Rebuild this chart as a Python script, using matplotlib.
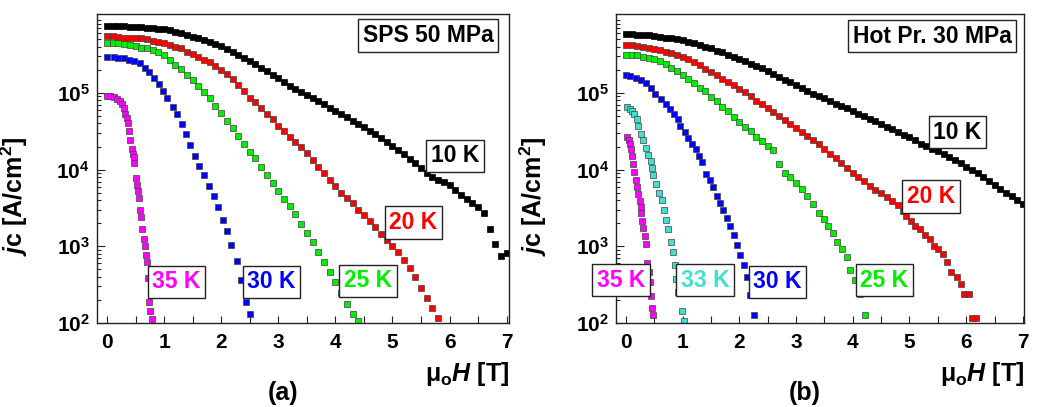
import numpy as np
import matplotlib
matplotlib.use('Agg')
import matplotlib.pyplot as plt
from matplotlib.ticker import FixedLocator, FixedFormatter, LogLocator, NullFormatter, MultipleLocator

plt.rcParams['font.family'] = ['Liberation Sans', 'DejaVu Sans']
plt.rcParams['font.weight'] = 'bold'
plt.rcParams['mathtext.fontset'] = 'custom'
plt.rcParams['mathtext.rm'] = 'Liberation Sans:bold'
plt.rcParams['mathtext.it'] = 'Liberation Sans:italic:bold'
plt.rcParams['mathtext.bf'] = 'Liberation Sans:bold'

# ---------------- (a) SPS 50 MPa ----------------  (values are log10 jc)
h_10a = [0.0, 0.1, 0.2, 0.3, 0.4, 0.5, 0.6, 0.7, 0.8, 0.9,
         1.0, 1.1, 1.2, 1.3, 1.4, 1.5, 1.6, 1.7, 1.8, 1.9,
         2.0, 2.1, 2.2, 2.3, 2.4, 2.5, 2.6, 2.7, 2.8, 2.9,
         3.0, 3.1, 3.2, 3.3, 3.4, 3.5, 3.6, 3.7, 3.8, 3.9,
         4.0, 4.1, 4.2, 4.3, 4.4, 4.5, 4.6, 4.7, 4.8, 4.9,
         5.0, 5.1, 5.2, 5.3, 5.4, 5.5, 5.6, 5.7, 5.8, 5.9,
         6.0, 6.1, 6.2, 6.3, 6.4, 6.5, 6.6, 6.7, 6.8, 6.9, 7.0]
lj_10a = [5.87, 5.87, 5.87, 5.87, 5.86, 5.86, 5.86, 5.85, 5.85, 5.84,
          5.83, 5.82, 5.80, 5.78, 5.76, 5.73, 5.71, 5.69, 5.67, 5.64,
          5.61, 5.57, 5.54, 5.50, 5.46, 5.42, 5.38, 5.33, 5.28, 5.24,
          5.19, 5.14, 5.09, 5.05, 5.01, 4.97, 4.93, 4.89, 4.85, 4.81,
          4.77, 4.73, 4.68, 4.64, 4.60, 4.56, 4.51, 4.46, 4.41, 4.36,
          4.31, 4.25, 4.20, 4.14, 4.08, 4.02, 3.96, 3.91, 3.87, 3.84,
          3.80, 3.74, 3.67, 3.62, 3.57, 3.51, 3.43, 3.22, 3.03, 2.87, 2.91]

h_20a = [0.0, 0.1, 0.2, 0.3, 0.4, 0.5, 0.6, 0.7, 0.8, 0.9,
         1.0, 1.1, 1.2, 1.3, 1.4, 1.5, 1.6, 1.7, 1.8, 1.9,
         2.0, 2.1, 2.2, 2.3, 2.4, 2.5, 2.6, 2.7, 2.8, 2.9,
         3.0, 3.1, 3.2, 3.3, 3.4, 3.5, 3.6, 3.7, 3.8, 3.9,
         4.0, 4.1, 4.2, 4.3, 4.4, 4.5, 4.6, 4.7, 4.8, 4.9,
         5.0, 5.1, 5.2, 5.3, 5.4, 5.5, 5.6, 5.7, 5.8]
lj_20a = [5.74, 5.74, 5.73, 5.72, 5.72, 5.72, 5.71, 5.70, 5.68, 5.66,
          5.65, 5.62, 5.60, 5.58, 5.54, 5.51, 5.47, 5.43, 5.40, 5.35,
          5.30, 5.25, 5.18, 5.10, 5.02, 4.94, 4.88, 4.81, 4.73, 4.66,
          4.57, 4.51, 4.43, 4.36, 4.30, 4.22, 4.13, 4.04, 3.95, 3.86,
          3.78, 3.70, 3.63, 3.56, 3.48, 3.41, 3.33, 3.25, 3.16, 3.08,
          3.01, 2.92, 2.82, 2.72, 2.60, 2.46, 2.32, 2.20, 2.07]

h_25a = [0.0, 0.1, 0.2, 0.3, 0.4, 0.5, 0.6, 0.7, 0.8, 0.9,
         1.0, 1.1, 1.2, 1.3, 1.4, 1.5, 1.6, 1.7, 1.8, 1.9,
         2.0, 2.1, 2.2, 2.3, 2.4, 2.5, 2.6, 2.7, 2.8, 2.9,
         3.0, 3.1, 3.2, 3.3, 3.4, 3.5, 3.6, 3.7, 3.8, 3.9,
         4.0, 4.1, 4.2, 4.3, 4.4]
lj_25a = [5.65, 5.65, 5.65, 5.64, 5.63, 5.61, 5.59, 5.58, 5.56, 5.53,
          5.49, 5.43, 5.37, 5.31, 5.24, 5.17, 5.09, 5.01, 4.93, 4.83,
          4.74, 4.63, 4.54, 4.44, 4.33, 4.23, 4.15, 4.04, 3.93, 3.82,
          3.72, 3.62, 3.52, 3.42, 3.29, 3.18, 3.06, 2.93, 2.79, 2.66,
          2.53, 2.39, 2.25, 2.12, 2.02]

h_30a = [0.0, 0.12, 0.20, 0.29, 0.38, 0.47, 0.57, 0.66, 0.74, 0.83,
         0.91, 0.99, 1.06, 1.15, 1.22, 1.31, 1.38, 1.46, 1.54, 1.62,
         1.70, 1.79, 1.87, 1.95, 2.03, 2.11, 2.18, 2.27, 2.35, 2.43, 2.51]
lj_30a = [5.47, 5.47, 5.46, 5.45, 5.43, 5.41, 5.39, 5.33, 5.27, 5.19,
          5.12, 5.03, 4.93, 4.82, 4.72, 4.59, 4.46, 4.32, 4.18, 4.05,
          3.93, 3.79, 3.65, 3.51, 3.34, 3.20, 3.02, 2.81, 2.56, 2.28, 2.12]

h_35a = [0.0, 0.06, 0.12, 0.18, 0.23, 0.26, 0.29, 0.32, 0.35, 0.36,
         0.39, 0.41, 0.43, 0.46, 0.47, 0.48, 0.50, 0.52, 0.55, 0.56,
         0.58, 0.60, 0.62, 0.64, 0.66, 0.69, 0.70, 0.71, 0.74, 0.76, 0.79]
lj_35a = [4.96, 4.96, 4.95, 4.92, 4.89, 4.86, 4.80, 4.73, 4.67, 4.61,
          4.50, 4.39, 4.27, 4.20, 4.16, 4.08, 3.89, 3.80, 3.72, 3.63,
          3.48, 3.38, 3.22, 3.10, 3.01, 2.89, 2.79, 2.59, 2.28, 2.16, 2.05]

# ---------------- (b) Hot Pr. 30 MPa ----------------
h_10b = h_10a
lj_10b = [5.77, 5.77, 5.76, 5.76, 5.75, 5.74, 5.73, 5.72, 5.71, 5.70,
          5.69, 5.67, 5.65, 5.62, 5.60, 5.58, 5.55, 5.53, 5.50, 5.47,
          5.44, 5.41, 5.38, 5.35, 5.32, 5.28, 5.25, 5.21, 5.17, 5.14,
          5.10, 5.07, 5.03, 4.99, 4.96, 4.93, 4.89, 4.86, 4.83, 4.80,
          4.76, 4.73, 4.70, 4.66, 4.63, 4.59, 4.56, 4.53, 4.49, 4.45,
          4.42, 4.38, 4.34, 4.31, 4.27, 4.24, 4.20, 4.17, 4.13, 4.09,
          4.04, 4.00, 3.95, 3.90, 3.85, 3.80, 3.75, 3.70, 3.65, 3.60, 3.55]

h_20b = [0.0, 0.1, 0.2, 0.3, 0.4, 0.5, 0.6, 0.7, 0.8, 0.9,
         1.0, 1.1, 1.2, 1.3, 1.4, 1.5, 1.6, 1.7, 1.8, 1.9,
         2.0, 2.1, 2.2, 2.3, 2.4, 2.5, 2.6, 2.7, 2.8, 2.9,
         3.0, 3.1, 3.2, 3.3, 3.4, 3.5, 3.6, 3.7, 3.8, 3.9,
         4.0, 4.1, 4.2, 4.3, 4.4, 4.5, 4.6, 4.7, 4.8,
         4.89, 4.94, 5.02, 5.10, 5.19, 5.27, 5.36, 5.43, 5.51, 5.59,
         5.67, 5.74, 5.83, 5.90, 5.97, 6.05, 6.10, 6.18]
lj_20b = [5.62, 5.62, 5.61, 5.60, 5.59, 5.57, 5.56, 5.54, 5.52, 5.50,
          5.47, 5.44, 5.40, 5.36, 5.31, 5.27, 5.23, 5.18, 5.14, 5.10,
          5.05, 5.01, 4.96, 4.90, 4.85, 4.80, 4.75, 4.70, 4.65, 4.59,
          4.54, 4.49, 4.44, 4.39, 4.33, 4.27, 4.21, 4.15, 4.08, 4.02,
          3.96, 3.90, 3.85, 3.79, 3.74, 3.69, 3.64, 3.59, 3.54,
          3.46, 3.39, 3.33, 3.26, 3.22, 3.15, 3.09, 3.00, 2.96, 2.90,
          2.80, 2.67, 2.60, 2.51, 2.38, 2.38, 2.07, 2.07]

h_25b = [0.0, 0.1, 0.2, 0.3, 0.4, 0.5, 0.6, 0.7, 0.8, 0.9,
         1.0, 1.1, 1.2, 1.3, 1.4, 1.5, 1.6, 1.7, 1.8, 1.9,
         2.0, 2.1, 2.2, 2.3, 2.4, 2.5, 2.6, 2.7, 2.8, 2.9,
         3.0, 3.1, 3.2, 3.3, 3.4, 3.49, 3.56, 3.65, 3.73, 3.81,
         3.89, 3.96, 4.04, 4.12, 4.21]
lj_25b = [5.50, 5.49, 5.49, 5.47, 5.46, 5.44, 5.41, 5.38, 5.33, 5.28,
          5.23, 5.18, 5.13, 5.07, 5.02, 4.95, 4.89, 4.82, 4.76, 4.69,
          4.62, 4.56, 4.50, 4.43, 4.37, 4.31, 4.25, 4.07, 3.96, 3.90,
          3.83, 3.75, 3.66, 3.55, 3.43, 3.36, 3.26, 3.17, 3.06, 2.97,
          2.86, 2.69, 2.56, 2.38, 2.11]

h_30b = [0.0, 0.08, 0.17, 0.26, 0.35, 0.44, 0.52, 0.61, 0.70, 0.78,
         0.85, 0.91, 0.96, 1.04, 1.09, 1.17, 1.23, 1.29, 1.35, 1.42,
         1.48, 1.53, 1.60, 1.66, 1.72, 1.78, 1.83, 1.90, 1.95, 2.01,
         2.08, 2.14, 2.18, 2.26]
lj_30b = [5.23, 5.22, 5.20, 5.17, 5.13, 5.06, 4.99, 4.92, 4.86, 4.79,
          4.72, 4.66, 4.57, 4.49, 4.41, 4.33, 4.27, 4.18, 4.10, 3.94,
          3.86, 3.77, 3.66, 3.57, 3.47, 3.37, 3.27, 3.15, 3.02, 2.89,
          2.75, 2.60, 2.37, 2.11]

h_33b = [0.02, 0.07, 0.11, 0.15, 0.19, 0.22, 0.26, 0.31, 0.35, 0.39,
         0.44, 0.46, 0.48, 0.53, 0.58, 0.63, 0.67, 0.71, 0.75, 0.79,
         0.83, 0.86, 0.89, 0.92, 0.99, 1.02]
lj_33b = [4.82, 4.79, 4.76, 4.72, 4.66, 4.57, 4.47, 4.38, 4.28, 4.19,
          4.11, 4.02, 3.93, 3.81, 3.70, 3.60, 3.47, 3.34, 3.22, 3.06,
          2.92, 2.75, 2.58, 2.41, 2.15, 2.02]

h_35b = [0.02, 0.05, 0.08, 0.09, 0.11, 0.13, 0.14, 0.17, 0.20, 0.22,
         0.24, 0.26, 0.27, 0.29, 0.31, 0.33, 0.35, 0.38, 0.41, 0.42,
         0.45, 0.46, 0.48]
lj_35b = [4.42, 4.38, 4.33, 4.27, 4.18, 4.07, 3.97, 3.86, 3.77, 3.68,
          3.59, 3.51, 3.43, 3.33, 3.24, 3.13, 3.03, 2.78, 2.67, 2.54,
          2.35, 2.20, 2.10]

RED, GREEN, BLUE, MAG, CYAN = '#ff0000', '#00ee00', '#0000ff', '#ff00ff', '#40e0d0'

curves_a = [(h_35a, lj_35a, MAG), (h_30a, lj_30a, BLUE), (h_25a, lj_25a, GREEN),
            (h_20a, lj_20a, RED), (h_10a, lj_10a, 'black')]
curves_b = [(h_35b, lj_35b, MAG), (h_33b, lj_33b, CYAN), (h_30b, lj_30b, BLUE),
            (h_25b, lj_25b, GREEN), (h_20b, lj_20b, RED), (h_10b, lj_10b, 'black')]

# label text, field, log10 jc, colour
tags_a = [('SPS 50 MPa', 5.62, 5.75, 'black'), ('10 K', 6.09, 4.18, 'black'),
          ('20 K', 5.37, 3.31, RED), ('25 K', 4.57, 2.55, GREEN),
          ('30 K', 2.88, 2.54, BLUE), ('35 K', 1.22, 2.54, MAG)]
tags_b = [('Hot Pr. 30 MPa', 5.40, 5.74, 'black'), ('10 K', 5.85, 4.49, 'black'),
          ('20 K', 5.38, 3.65, RED), ('25 K', 4.56, 2.56, GREEN),
          ('30 K', 2.67, 2.54, BLUE), ('33 K', 1.40, 2.56, CYAN),
          ('35 K', -0.09, 2.56, MAG)]

fig = plt.figure(figsize=(10.46, 4.07), dpi=100)
ax_a = fig.add_axes([0.0927, 0.2064, 0.3939, 0.7592])
ax_b = fig.add_axes([0.5889, 0.2064, 0.3901, 0.7592])


def setup(ax, curves, tags, xmax):
    for h, lj, c in curves:
        ec = 'black' if c == 'black' else '#404040'
        ax.plot(h, 10 ** np.array(lj), ls='none', marker='s', ms=4.6,
                mfc=c, mec=ec, mew=0.5)
    for s, x, ly, c in tags:
        ax.text(x, 10 ** ly, s, color=c, fontsize=16.5, fontweight='bold',
                ha='center', va='center', zorder=5,
                bbox=dict(boxstyle='square,pad=0.2', fc='white', ec='#222222', lw=1.0))
    ax.set_yscale('log')
    ax.set_xlim(-0.175, xmax)
    ax.set_ylim(1e2, 1.07e6)
    ax.yaxis.set_major_locator(FixedLocator([1e2, 1e3, 1e4, 1e5]))
    ax.yaxis.set_major_formatter(FixedFormatter([r'$10^{2}$', r'$10^{3}$', r'$10^{4}$', r'$10^{5}$']))
    ax.yaxis.set_minor_locator(LogLocator(base=10, subs=range(2, 10)))
    ax.yaxis.set_minor_formatter(NullFormatter())
    ax.xaxis.set_major_locator(MultipleLocator(1))
    ax.xaxis.set_minor_locator(MultipleLocator(0.5))
    ax.tick_params(axis='both', which='both', direction='in', top=False, right=False,
                   labelsize=15, width=0.8, color='#222222')
    ax.tick_params(axis='y', which='major', length=6, pad=5)
    ax.tick_params(axis='y', which='minor', length=3)
    ax.tick_params(axis='x', which='both', length=5, pad=7)
    for lab in ax.get_xticklabels() + ax.get_yticklabels():
        lab.set_fontweight('bold')
    for sp in ax.spines.values():
        sp.set_color('#222222')
        sp.set_linewidth(1.0)
    ax.set_ylabel(r'$j\mathrm{c}$ [A/cm$^{\mathrm{2}}$]', fontsize=18, fontweight='bold')
    ax.yaxis.set_label_coords(-0.163, 0.41)
    ax.text(1.0, -0.165, r'$\mathrm{\mu}_{\mathrm{o}}H$ [T]', transform=ax.transAxes,
            ha='right', va='center', fontsize=18, fontweight='bold')


setup(ax_a, curves_a, tags_a, 7.04)
setup(ax_b, curves_b, tags_b, 7.02)

fig.text(0.2706, 0.035, '(a)', ha='center', va='center', fontsize=18, fontweight='bold')
fig.text(0.7696, 0.035, '(b)', ha='center', va='center', fontsize=18, fontweight='bold')

fig.savefig('out.png', dpi=100)
